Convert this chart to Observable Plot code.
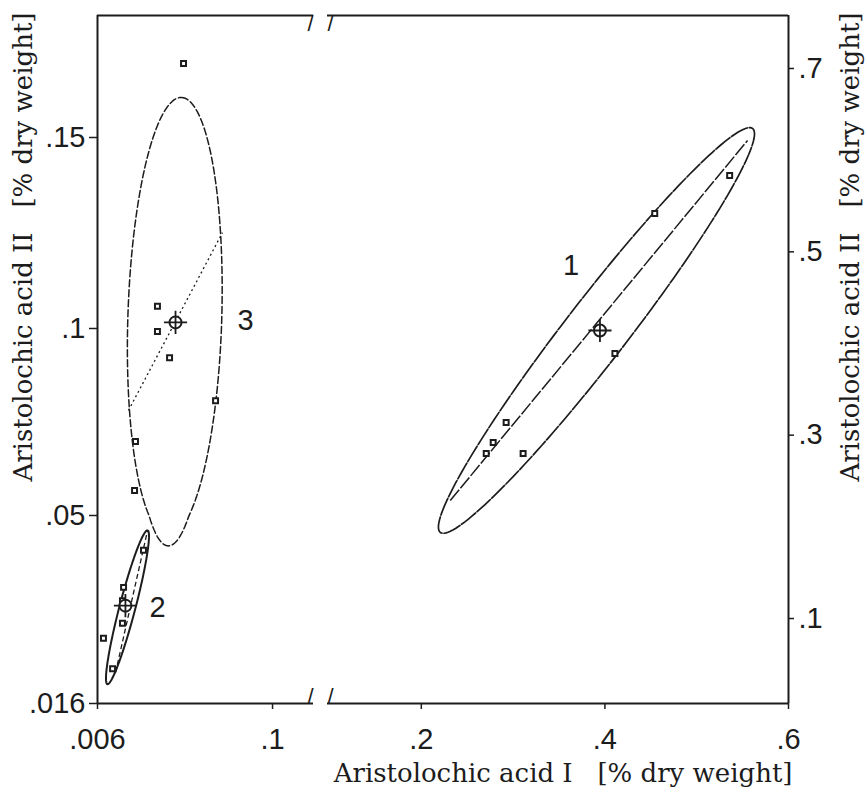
<!DOCTYPE html>
<html>
<head>
<meta charset="utf-8">
<script src="https://cdn.jsdelivr.net/npm/d3@7"></script>
<script src="https://cdn.jsdelivr.net/npm/@observablehq/plot@0.6"></script>
<style>
  body { margin: 0; background: #fff; }
  #chart { position: relative; width: 867px; height: 797px; }
  #chart svg { position: absolute; left: 0; top: 0; }
</style>
</head>
<body>
<div id="chart"></div>
<script>
// ---------- tick values ----------
const leftXTicks = [0.006, 0.1];
const leftYTicks = [0.016, 0.05, 0.1, 0.15];
const rightXTicks = [0.2, 0.4, 0.6];
const rightYTicks = [0.1, 0.3, 0.5, 0.7];

// ---------- axis titles ----------
const xTitle = "Aristolochic acid I\u00a0\u00a0\u00a0[% dry weight]";
const yTitle = "Aristolochic acid II\u00a0\u00a0\u00a0[% dry weight]";

// ---------- individual samples ----------
// group 1 (right panel: AA I 0.1-0.6, AA II right axis)
const g1x = [0.5359, 0.4543, 0.4109, 0.2924, 0.2783, 0.2707, 0.3109];
const g1y = [0.5833, 0.5418, 0.3891, 0.3138, 0.2920, 0.2800, 0.2800];
// group 2 (left panel)
const g2x = [0.0307, 0.0200, 0.0194, 0.0194, 0.0092, 0.0141];
const g2y = [0.0437, 0.0370, 0.0346, 0.0305, 0.0278, 0.0223];
// group 3 (left panel)
const g3x = [0.0522, 0.0382, 0.0382, 0.0447, 0.0694, 0.0264, 0.0259];
const g3y = [0.1694, 0.1058, 0.0992, 0.0922, 0.0807, 0.0698, 0.0567];

// ---------- group summaries (index 0 = group 1, 1 = group 2, 2 = group 3) ----------
const groupNames = ["1", "2", "3"];
const meanX = [0.3946, 0.0210, 0.0479];
const meanY = [0.4142, 0.0337, 0.1016];
// confidence ellipse: centre, end of major semi-axis, end of minor semi-axis
const ellCX = [0.3908, 0.0221, 0.0475];
const ellCY = [0.4142, 0.0334, 0.1025];
const ellAX = [0.5609, 0.0329, 0.0511];
const ellAY = [0.6345, 0.0473, 0.1605];
const ellBX = [0.4174, 0.0262, 0.0727];
const ellBY = [0.3935, 0.0330, 0.1021];
// regression line inside each ellipse
const regX1 = [0.2315, 0.0157, 0.02265];
const regY1 = [0.2287, 0.0216, 0.0781];
const regX2 = [0.5554, 0.0329, 0.0731];
const regY2 = [0.6215, 0.0473, 0.1251];
// group number labels
const labelX = [0.363, 0.0382, 0.0855];
const labelY = [0.485, 0.0334, 0.1021];

// ---------- helpers ----------
const fmt = d => String(d).replace(/^0\./, ".");
const W = 867, H = 797;
const INK = "#1c1c1c";
const sans = "'Liberation Sans', Arial, Helvetica, sans-serif";
const serif = "'DejaVu Serif', 'Liberation Serif', serif";

function ellipseOutline(i) {
  const n = 160, pts = [];
  for (let k = 0; k <= n; k++) {
    const t = 2 * Math.PI * k / n, c = Math.cos(t), s = Math.sin(t);
    pts.push({
      x: ellCX[i] + c * (ellAX[i] - ellCX[i]) + s * (ellBX[i] - ellCX[i]),
      y: ellCY[i] + c * (ellAY[i] - ellCY[i]) + s * (ellBY[i] - ellCY[i])
    });
  }
  return pts;
}
const pts = (xs, ys) => xs.map((x, i) => ({x, y: ys[i]}));

const ellStyle = [
  {stroke: INK, strokeWidth: 1.7, strokeDasharray: "18,2"},
  {stroke: INK, strokeWidth: 2},
  {stroke: INK, strokeWidth: 1.5, strokeDasharray: "7,3"}
];
const regStyle = [
  {stroke: INK, strokeWidth: 1.5, strokeDasharray: "14,2"},
  {stroke: INK, strokeWidth: 1.3, strokeDasharray: "5,3"},
  {stroke: INK, strokeWidth: 1.3, strokeDasharray: "2,3"}
];

function groupMarks(i, xs, ys) {
  return [
    Plot.line(ellipseOutline(i), {x: "x", y: "y", ...ellStyle[i]}),
    Plot.link([i], {x1: j => regX1[j], y1: j => regY1[j], x2: j => regX2[j], y2: j => regY2[j], ...regStyle[i]}),
    Plot.dot(pts(xs, ys), {x: "x", y: "y", symbol: "square", r: 2.8, stroke: INK, strokeWidth: 2, fill: "white"}),
    Plot.dot([i], {x: j => meanX[j], y: j => meanY[j], r: 6, stroke: INK, strokeWidth: 2, fill: "white"}),
    Plot.dot([i], {x: j => meanX[j], y: j => meanY[j], symbol: "plus", r: 7.5, stroke: INK, strokeWidth: 1.8}),
    Plot.text([i], {x: j => labelX[j], y: j => labelY[j], text: j => groupNames[j], fontFamily: sans, fontSize: 29, fill: INK})
  ];
}

const frameRule = {stroke: INK, strokeWidth: 2};
const breakMark = {text: d => d, fontFamily: sans, fontSize: 22, fill: INK};

// ---------- left panel ----------
// the left AA II axis is drawn non-uniformly in the original (.016 sits at the corner),
// so values pass through a piecewise-linear transform before the linear scale
const leftYBreaks = [0.016, 0.05, 0.1, 0.15, 0.182];
const leftYWarp = d3.scaleLinear().domain(leftYBreaks).range([0, 188, 375, 566, 688]);
const left = Plot.plot({
  width: W, height: H,
  marginLeft: 97, marginRight: W - 313, marginTop: 15, marginBottom: H - 703,
  style: {fontFamily: sans, fontSize: "29px", color: INK, background: "transparent", overflow: "visible"},
  x: {domain: [0.006, 0.122], range: [97, 313]},
  y: {type: "linear", transform: leftYWarp, domain: [leftYWarp(leftYBreaks[0]), leftYWarp(leftYBreaks[4])], range: [703, 15]},
  marks: [
    Plot.ruleX([0.006], frameRule),
    Plot.ruleY([leftYBreaks[0]], frameRule),
    Plot.ruleY([leftYBreaks[4]], frameRule),
    Plot.text(["/"], {frameAnchor: "top-right", ...breakMark}),
    Plot.text(["/"], {frameAnchor: "bottom-right", ...breakMark}),
    Plot.axisY(leftYTicks, {anchor: "left", tickSize: 8, tickPadding: 4, tickFormat: fmt, label: null, fontSize: 29, strokeWidth: 1.5}),
    Plot.axisX(leftXTicks, {anchor: "bottom", tickSize: 6, tickPadding: 19, tickFormat: fmt, label: null, fontSize: 29, strokeWidth: 1.5}),
    Plot.text([yTitle], {frameAnchor: "top-left", text: d => d, rotate: -90, textAnchor: "end", dx: -84, dy: -3, fontFamily: serif, fontSize: 26, fill: INK}),
    ...groupMarks(2, g3x, g3y),
    ...groupMarks(1, g2x, g2y)
  ]
});

// ---------- right panel ----------
const rightYDomain = [0.0073, 0.7578];
const right = Plot.plot({
  width: W, height: H,
  marginLeft: 327, marginRight: W - 788, marginTop: 15, marginBottom: H - 703,
  style: {fontFamily: sans, fontSize: "29px", color: INK, background: "transparent", overflow: "visible"},
  x: {domain: [0.0978, 0.6], range: [327, 788]},
  y: {domain: rightYDomain, range: [703, 15]},
  marks: [
    Plot.ruleX([0.6], frameRule),
    Plot.ruleY([rightYDomain[0]], frameRule),
    Plot.ruleY([rightYDomain[1]], frameRule),
    Plot.text(["/"], {frameAnchor: "top-left", ...breakMark}),
    Plot.text(["/"], {frameAnchor: "bottom-left", ...breakMark}),
    Plot.axisY(rightYTicks, {anchor: "right", tickSize: 5, tickPadding: 5, tickFormat: fmt, label: null, fontSize: 29, strokeWidth: 1.5}),
    Plot.axisX(rightXTicks, {anchor: "bottom", tickSize: 6, tickPadding: 19, tickFormat: fmt, label: null, fontSize: 29, strokeWidth: 1.5}),
    Plot.text([yTitle], {frameAnchor: "top-right", text: d => d, rotate: -90, textAnchor: "end", dx: 52, dy: -3, fontFamily: serif, fontSize: 26, fill: INK}),
    Plot.text([xTitle], {frameAnchor: "bottom-right", text: d => d, textAnchor: "end", dx: 4, dy: 78, fontFamily: serif, fontSize: 26, fill: INK}),
    ...groupMarks(0, g1x, g1y)
  ]
});

const chart = document.getElementById("chart");
chart.appendChild(left);
chart.appendChild(right);
</script>
</body>
</html>
